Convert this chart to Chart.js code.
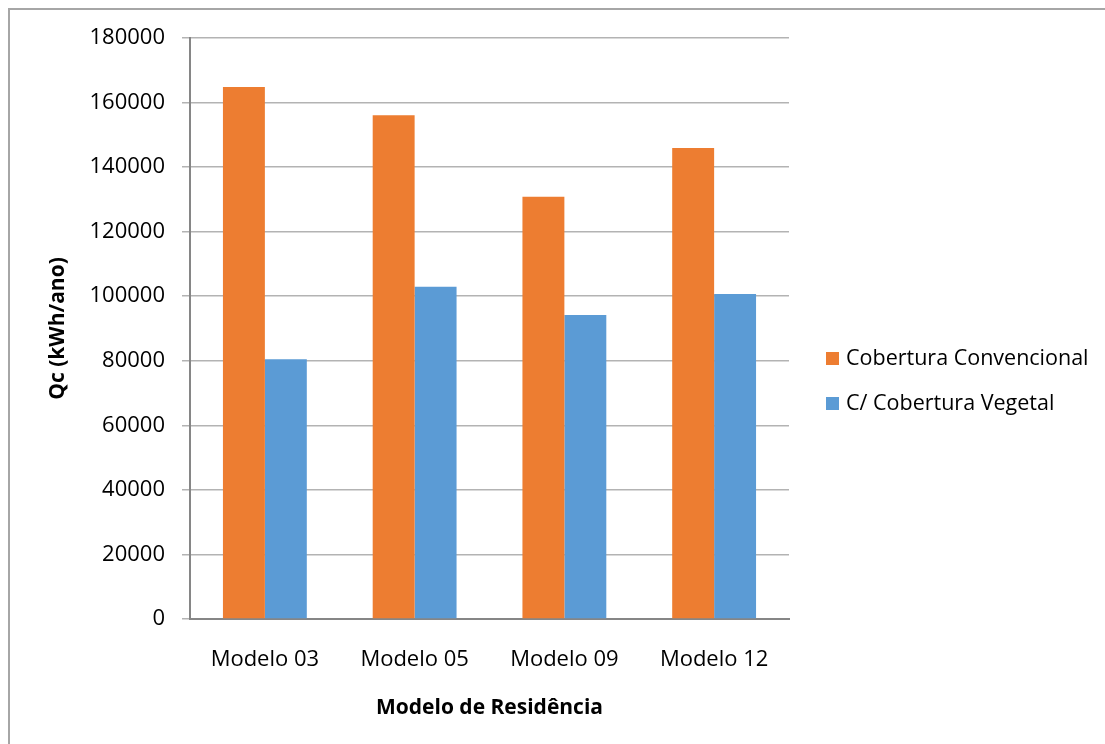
<!DOCTYPE html>
<html>
<head>
<meta charset="utf-8">
<script src="https://cdn.jsdelivr.net/npm/chart.js@4"></script>
<style>
    html, body { margin: 0; padding: 0; background: #fff; }
    #wrap { position: relative; width: 1105px; height: 744px; overflow: hidden; }
    #frame { position: absolute; left: 8px; top: 8px; width: 1110px; height: 760px; border: 2px solid #a6a6a6; box-sizing: border-box; }
    #bar_chart { position: absolute; left: 0; top: 0; }
    .legend { position: absolute; left: 826px; font-family: "Open Sans", sans-serif; font-size: 21.5px; color: #000; white-space: nowrap; }
    .legend span.box { display: inline-block; width: 13px; height: 13px; margin-right: 7px; vertical-align: middle; position: relative; top: -1px; }
</style>
</head>
<body>
<div id="wrap">
    <div id="frame"></div>
    <canvas id="bar_chart" width="1105" height="744"></canvas>
    <div class="legend" style="top: 342px;"><span class="box" style="background:#ed7d31"></span>Cobertura Convencional</div>
    <div class="legend" style="top: 387px;"><span class="box" style="background:#5b9bd5"></span>C/ Cobertura Vegetal</div>
</div>
<script>
var categories = ["Modelo 03", "Modelo 05", "Modelo 09", "Modelo 12"];
var convencional = [164800, 156100, 130800, 145900];
var vegetal = [80500, 102900, 94200, 100700];
var seriesNames = ["Cobertura Convencional", "C/ Cobertura Vegetal"];
var yTicks = [0, 20000, 40000, 60000, 80000, 100000, 120000, 140000, 160000, 180000];

document.addEventListener('DOMContentLoaded', () => {
    var ctx = document.getElementById('bar_chart').getContext('2d');
    new Chart(ctx, {
        type: 'bar',
        data: {
            labels: categories,
            datasets: [{
                label: seriesNames[0],
                data: convencional,
                backgroundColor: '#ed7d31'
            }, {
                label: seriesNames[1],
                data: vegetal,
                backgroundColor: '#5b9bd5'
            }]
        },
        options: {
            responsive: false,
            animation: false,
            categoryPercentage: 0.56,
            barPercentage: 1,
            layout: { padding: { left: 0, top: 38, right: 316, bottom: 0 } },
            plugins: {
                legend: { display: false },
                tooltip: { enabled: false }
            },
            scales: {
                x: {
                    afterFit: (scale) => { scale.height = 125; },
                    grid: { display: false, drawTicks: false },
                    border: { display: true, color: '#868686', width: 2 },
                    ticks: {
                        padding: 28,
                        color: '#000',
                        font: { family: 'Open Sans', size: 22 }
                    },
                    title: {
                        display: true,
                        text: 'Modelo de Residência',
                        color: '#000',
                        padding: { top: 0, bottom: 23 },
                        font: { family: 'Open Sans', size: 21, weight: 'bold' }
                    }
                },
                y: {
                    min: 0,
                    max: 180000,
                    afterFit: (scale) => { scale.width = 190; },
                    afterBuildTicks: (scale) => { scale.ticks = yTicks.map(v => ({ value: v })); },
                    grid: { color: '#b3b3b3', lineWidth: 1.5, tickLength: 8 },
                    border: { display: true, color: '#868686', width: 2 },
                    ticks: {
                        padding: 17,
                        color: '#000',
                        font: { family: 'Open Sans', size: 22 },
                        callback: (v) => String(v)
                    },
                    title: {
                        display: true,
                        text: 'Qc (kWh/ano)',
                        color: '#000',
                        padding: { top: 45, bottom: 0 },
                        font: { family: 'Open Sans', size: 21, weight: 'bold' }
                    }
                }
            }
        }
    });
});
</script>
</body>
</html>
